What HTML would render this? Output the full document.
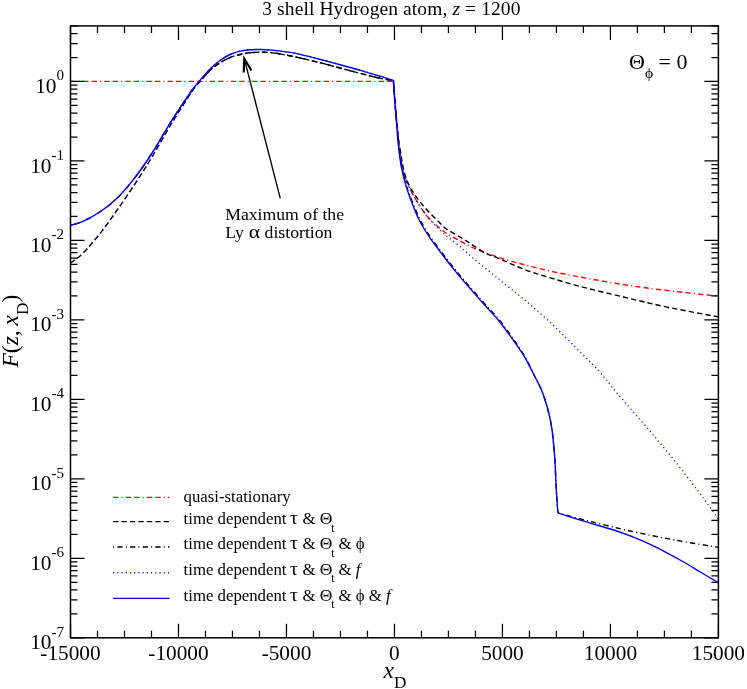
<!DOCTYPE html>
<html><head><meta charset="utf-8"><title>3 shell Hydrogen atom</title>
<style>
html,body{margin:0;padding:0;background:#fff;}
svg text{font-family:"Liberation Serif",serif;fill:#000;white-space:pre;}
body{width:747px;height:689px;overflow:hidden;position:relative;font-family:"Liberation Serif",serif;}
</style></head><body>
<svg width="747" height="689" viewBox="0 0 747 689" style="position:absolute;left:0;top:0;will-change:transform">
<rect x="0" y="0" width="747" height="689" fill="#ffffff"/>
<defs><clipPath id="cp"><rect x="70.50" y="25.90" width="647.90" height="611.90"/></clipPath></defs>
<g clip-path="url(#cp)">
<path d="M70.50 81.40L393.40 81.40C393.63 84.68 394.28 94.67 394.80 101.10C395.32 107.53 395.80 112.85 396.50 120.00C397.20 127.15 397.92 135.53 399.00 144.00C400.08 152.47 401.07 163.12 403.00 170.80C404.93 178.48 407.20 183.33 410.60 190.10C414.00 196.87 419.63 206.02 423.40 211.40C427.17 216.78 429.42 218.80 433.20 222.40C436.98 226.00 441.42 229.80 446.10 233.00C450.78 236.20 456.95 239.20 461.30 241.60C465.65 244.00 467.33 245.22 472.20 247.40C477.07 249.58 484.70 252.62 490.50 254.70C496.30 256.78 501.33 258.22 507.00 259.90C512.67 261.58 517.23 262.92 524.50 264.80C531.77 266.68 541.35 269.17 550.60 271.20C559.85 273.23 567.85 274.77 580.00 277.00C592.15 279.23 608.98 282.35 623.50 284.60C638.02 286.85 651.28 288.57 667.10 290.50C682.92 292.43 709.85 295.25 718.40 296.20" fill="none" stroke="#ff0000" stroke-width="1.40" stroke-dasharray="5.275 3.165 1.055 3.165 5.275 3.165" stroke-linejoin="round"/>
<path d="M70.50 263.20C72.65 261.47 78.27 258.02 83.40 252.80C88.53 247.58 95.38 239.45 101.30 231.90C107.22 224.35 113.02 215.92 118.90 207.50C124.78 199.08 131.00 189.97 136.60 181.40C142.20 172.83 146.78 165.58 152.50 156.10C158.22 146.62 164.43 135.10 170.90 124.50C177.37 113.90 186.53 99.58 191.30 92.50C196.07 85.42 196.13 85.92 199.50 82.00C202.87 78.08 207.85 72.33 211.50 69.00C215.15 65.67 218.10 64.00 221.40 62.00C224.70 60.00 227.97 58.30 231.30 57.00C234.63 55.70 238.02 54.93 241.40 54.20C244.78 53.47 247.87 52.93 251.60 52.60C255.33 52.27 259.73 52.08 263.80 52.20C267.87 52.32 271.63 52.70 276.00 53.30C280.37 53.90 285.95 55.02 290.00 55.80C294.05 56.58 295.20 56.83 300.30 58.00C305.40 59.17 313.82 61.08 320.60 62.80C327.38 64.52 334.22 66.50 341.00 68.30C347.78 70.10 354.53 71.88 361.30 73.60C368.07 75.32 376.25 77.47 381.60 78.60C386.95 79.73 391.43 80.10 393.40 80.40C393.63 83.85 394.28 94.50 394.80 101.10C395.32 107.70 395.87 113.52 396.50 120.00C397.13 126.48 397.97 134.92 398.60 140.00C399.23 145.08 399.33 145.03 400.30 150.50C401.27 155.97 402.58 166.37 404.40 172.80C406.22 179.23 408.13 183.68 411.20 189.10C414.27 194.52 418.30 199.93 422.80 205.30C427.30 210.67 434.32 217.40 438.20 221.30C442.08 225.20 442.25 225.95 446.10 228.70C449.95 231.45 456.95 235.12 461.30 237.80C465.65 240.48 468.20 242.27 472.20 244.80C476.20 247.33 480.93 250.75 485.30 253.00C489.67 255.25 491.87 255.55 498.40 258.30C504.93 261.05 515.80 266.23 524.50 269.50C533.20 272.77 541.35 275.08 550.60 277.90C559.85 280.72 567.85 283.22 580.00 286.40C592.15 289.58 608.98 293.55 623.50 297.00C638.02 300.45 651.28 303.78 667.10 307.10C682.92 310.42 709.85 315.27 718.40 316.90" fill="none" stroke="#000000" stroke-width="1.40" stroke-dasharray="5.275 3.165" stroke-linejoin="round"/>
<path d="M70.50 225.30C72.48 224.68 77.52 223.82 82.40 221.60C87.28 219.38 93.98 215.93 99.80 212.00C105.62 208.07 111.48 203.68 117.30 198.00C123.12 192.32 128.95 185.32 134.70 177.90C140.45 170.48 145.82 162.75 151.80 153.50C157.78 144.25 164.00 132.82 170.60 122.40C177.20 111.98 186.58 97.73 191.40 91.00C196.22 84.27 196.15 85.67 199.50 82.00C202.85 78.33 207.85 72.33 211.50 69.00C215.15 65.67 218.10 64.00 221.40 62.00C224.70 60.00 227.97 58.30 231.30 57.00C234.63 55.70 238.02 54.93 241.40 54.20C244.78 53.47 247.87 52.93 251.60 52.60C255.33 52.27 259.73 52.08 263.80 52.20C267.87 52.32 271.63 52.70 276.00 53.30C280.37 53.90 285.95 55.02 290.00 55.80C294.05 56.58 295.20 56.83 300.30 58.00C305.40 59.17 313.82 61.08 320.60 62.80C327.38 64.52 334.22 66.50 341.00 68.30C347.78 70.10 354.53 71.88 361.30 73.60C368.07 75.32 376.25 77.47 381.60 78.60C386.95 79.73 391.43 80.10 393.40 80.40C394.03 83.61 394.72 94.26 395.20 100.86C395.68 107.46 396.12 112.54 396.70 119.76C397.28 126.98 397.87 136.38 398.70 144.16C399.53 151.94 400.35 159.34 401.70 166.46C403.05 173.58 404.54 179.78 406.80 186.86C409.06 193.94 412.93 203.25 415.25 208.95C417.57 214.65 418.72 217.12 420.75 221.05C422.78 224.98 425.27 229.10 427.45 232.55C429.63 236.00 430.62 237.33 433.85 241.75C437.08 246.17 442.50 253.43 446.85 259.05C451.20 264.67 455.60 270.22 459.95 275.45C464.30 280.68 468.60 285.47 472.95 290.45C477.30 295.43 481.68 300.47 486.05 305.35C490.42 310.23 494.81 314.45 499.15 319.75C503.49 325.05 507.83 331.03 512.11 337.18C516.39 343.32 521.02 350.02 524.82 356.61C528.61 363.20 532.11 371.08 534.90 376.70C537.70 382.31 539.52 385.13 541.60 390.30C543.68 395.47 545.70 401.40 547.40 407.70C549.10 414.00 550.58 419.87 551.80 428.10C553.02 436.33 553.98 447.43 554.70 457.10C555.42 466.77 555.62 477.40 556.10 486.10C556.58 494.80 557.22 504.80 557.60 509.30C557.98 513.80 558.27 512.47 558.40 513.10C563.35 514.40 578.32 518.42 588.10 520.90C597.88 523.38 608.45 525.97 617.10 528.00C625.75 530.03 630.33 531.08 640.00 533.10C649.67 535.12 662.03 537.72 675.10 540.10C688.17 542.48 711.18 546.18 718.40 547.40" fill="none" stroke="#000000" stroke-width="1.40" stroke-dasharray="1.055 3.165 5.275 3.165" stroke-linejoin="round"/>
<path d="M70.50 263.20C72.65 261.47 78.27 258.02 83.40 252.80C88.53 247.58 95.38 239.45 101.30 231.90C107.22 224.35 113.02 215.92 118.90 207.50C124.78 199.08 131.00 189.97 136.60 181.40C142.20 172.83 146.78 165.58 152.50 156.10C158.22 146.62 164.43 135.10 170.90 124.50C177.37 113.90 186.52 99.78 191.30 92.50C196.08 85.22 196.22 84.95 199.60 80.80C202.98 76.65 207.97 71.15 211.60 67.60C215.23 64.05 218.12 61.77 221.40 59.50C224.68 57.23 227.97 55.43 231.30 54.00C234.63 52.57 238.02 51.62 241.40 50.90C244.78 50.18 248.55 49.93 251.60 49.70C254.65 49.47 256.32 49.43 259.70 49.50C263.08 49.57 266.85 49.62 271.90 50.10C276.95 50.58 285.27 51.68 290.00 52.40C294.73 53.12 295.20 53.22 300.30 54.40C305.40 55.58 313.82 57.73 320.60 59.50C327.38 61.27 334.22 63.15 341.00 65.00C347.78 66.85 354.53 68.65 361.30 70.60C368.07 72.55 376.25 75.07 381.60 76.70C386.95 78.33 391.43 79.78 393.40 80.40C393.63 83.85 394.28 94.50 394.80 101.10C395.32 107.70 395.80 112.85 396.50 120.00C397.20 127.15 397.92 135.53 399.00 144.00C400.08 152.47 401.07 163.12 403.00 170.80C404.93 178.48 407.20 183.33 410.60 190.10C414.00 196.87 419.67 205.95 423.40 211.40C427.13 216.85 429.22 218.78 433.00 222.80C436.78 226.82 441.38 231.37 446.10 235.50C450.82 239.63 456.93 243.93 461.30 247.60C465.67 251.27 466.12 252.30 472.30 257.50C478.48 262.70 489.70 271.75 498.40 278.80C507.10 285.85 515.80 292.47 524.50 299.80C533.20 307.13 541.90 314.68 550.60 322.80C559.30 330.92 568.65 340.47 576.70 348.50C584.75 356.53 592.17 363.55 598.90 371.00C605.63 378.45 609.23 383.93 617.10 393.20C624.97 402.47 636.43 415.23 646.10 426.60C655.77 437.97 665.42 449.30 675.10 461.40C684.78 473.50 696.98 489.60 704.20 499.20C711.42 508.80 716.03 515.70 718.40 519.00" fill="none" stroke="#0000ff" stroke-width="1.40" stroke-dasharray="1.055 3.165" stroke-linejoin="round"/>
<path d="M70.50 225.30C72.48 224.68 77.52 223.82 82.40 221.60C87.28 219.38 93.98 215.93 99.80 212.00C105.62 208.07 111.48 203.68 117.30 198.00C123.12 192.32 128.95 185.32 134.70 177.90C140.45 170.48 145.82 162.75 151.80 153.50C157.78 144.25 164.00 132.82 170.60 122.40C177.20 111.98 186.57 97.93 191.40 91.00C196.23 84.07 196.23 84.70 199.60 80.80C202.97 76.90 207.97 71.15 211.60 67.60C215.23 64.05 218.12 61.77 221.40 59.50C224.68 57.23 227.97 55.43 231.30 54.00C234.63 52.57 238.02 51.62 241.40 50.90C244.78 50.18 248.55 49.93 251.60 49.70C254.65 49.47 256.32 49.43 259.70 49.50C263.08 49.57 266.85 49.62 271.90 50.10C276.95 50.58 285.27 51.68 290.00 52.40C294.73 53.12 295.20 53.22 300.30 54.40C305.40 55.58 313.82 57.73 320.60 59.50C327.38 61.27 334.22 63.15 341.00 65.00C347.78 66.85 354.53 68.65 361.30 70.60C368.07 72.55 376.25 75.07 381.60 76.70C386.95 78.33 391.43 79.78 393.40 80.40C393.63 83.85 394.32 94.50 394.80 101.10C395.28 107.70 395.72 112.78 396.30 120.00C396.88 127.22 397.47 136.62 398.30 144.40C399.13 152.18 399.95 159.58 401.30 166.70C402.65 173.82 404.20 179.98 406.40 187.10C408.60 194.22 412.23 203.67 414.50 209.40C416.77 215.13 417.97 217.57 420.00 221.50C422.03 225.43 424.52 229.55 426.70 233.00C428.88 236.45 429.87 237.78 433.10 242.20C436.33 246.62 441.75 253.88 446.10 259.50C450.45 265.12 454.85 270.67 459.20 275.90C463.55 281.13 467.85 285.92 472.20 290.90C476.55 295.88 480.93 300.92 485.30 305.80C489.67 310.68 494.05 314.90 498.40 320.20C502.75 325.50 507.05 331.50 511.40 337.60C515.75 343.70 520.58 350.28 524.50 356.80C528.42 363.32 532.05 371.12 534.90 376.70C537.75 382.28 539.52 385.13 541.60 390.30C543.68 395.47 545.70 401.40 547.40 407.70C549.10 414.00 550.58 419.87 551.80 428.10C553.02 436.33 553.98 447.43 554.70 457.10C555.42 466.77 555.62 477.40 556.10 486.10C556.58 494.80 557.22 504.80 557.60 509.30C557.98 513.80 558.27 512.47 558.40 513.10C560.83 513.88 568.05 516.25 573.00 517.80C577.95 519.35 583.60 521.03 588.10 522.40C592.60 523.77 595.23 524.57 600.00 526.00C604.77 527.43 611.12 529.13 616.70 531.00C622.28 532.87 627.92 534.97 633.50 537.20C639.08 539.43 644.63 541.80 650.20 544.40C655.77 547.00 661.32 549.87 666.90 552.80C672.48 555.73 678.12 558.80 683.70 562.00C689.28 565.20 694.62 568.52 700.40 572.00C706.18 575.48 715.40 581.08 718.40 582.90" fill="none" stroke="#0000ff" stroke-width="1.40" stroke-linejoin="round"/>
</g>
<rect x="70.50" y="25.90" width="647.90" height="611.90" fill="none" stroke="#000" stroke-width="1.50"/>
<path d="M70.50 637.80v-14.00M70.50 25.90v14.00M97.50 637.80v-7.00M97.50 25.90v7.00M124.49 637.80v-7.00M124.49 25.90v7.00M151.49 637.80v-7.00M151.49 25.90v7.00M178.48 637.80v-14.00M178.48 25.90v14.00M205.48 637.80v-7.00M205.48 25.90v7.00M232.47 637.80v-7.00M232.47 25.90v7.00M259.47 637.80v-7.00M259.47 25.90v7.00M286.47 637.80v-14.00M286.47 25.90v14.00M313.46 637.80v-7.00M313.46 25.90v7.00M340.46 637.80v-7.00M340.46 25.90v7.00M367.45 637.80v-7.00M367.45 25.90v7.00M394.45 637.80v-14.00M394.45 25.90v14.00M421.45 637.80v-7.00M421.45 25.90v7.00M448.44 637.80v-7.00M448.44 25.90v7.00M475.44 637.80v-7.00M475.44 25.90v7.00M502.43 637.80v-14.00M502.43 25.90v14.00M529.43 637.80v-7.00M529.43 25.90v7.00M556.42 637.80v-7.00M556.42 25.90v7.00M583.42 637.80v-7.00M583.42 25.90v7.00M610.42 637.80v-14.00M610.42 25.90v14.00M637.41 637.80v-7.00M637.41 25.90v7.00M664.41 637.80v-7.00M664.41 25.90v7.00M691.40 637.80v-7.00M691.40 25.90v7.00M718.40 637.80v-14.00M718.40 25.90v14.00M70.50 637.80h14.00M718.40 637.80h-14.00M70.50 613.87h7.00M718.40 613.87h-7.00M70.50 599.88h7.00M718.40 599.88h-7.00M70.50 589.95h7.00M718.40 589.95h-7.00M70.50 582.25h7.00M718.40 582.25h-7.00M70.50 575.95h7.00M718.40 575.95h-7.00M70.50 570.63h7.00M718.40 570.63h-7.00M70.50 566.02h7.00M718.40 566.02h-7.00M70.50 561.96h7.00M718.40 561.96h-7.00M70.50 558.32h14.00M718.40 558.32h-14.00M70.50 534.40h7.00M718.40 534.40h-7.00M70.50 520.40h7.00M718.40 520.40h-7.00M70.50 510.47h7.00M718.40 510.47h-7.00M70.50 502.77h7.00M718.40 502.77h-7.00M70.50 496.48h7.00M718.40 496.48h-7.00M70.50 491.15h7.00M718.40 491.15h-7.00M70.50 486.55h7.00M718.40 486.55h-7.00M70.50 482.48h7.00M718.40 482.48h-7.00M70.50 478.84h14.00M718.40 478.84h-14.00M70.50 454.92h7.00M718.40 454.92h-7.00M70.50 440.92h7.00M718.40 440.92h-7.00M70.50 430.99h7.00M718.40 430.99h-7.00M70.50 423.29h7.00M718.40 423.29h-7.00M70.50 417.00h7.00M718.40 417.00h-7.00M70.50 411.68h7.00M718.40 411.68h-7.00M70.50 407.07h7.00M718.40 407.07h-7.00M70.50 403.00h7.00M718.40 403.00h-7.00M70.50 399.37h14.00M718.40 399.37h-14.00M70.50 375.44h7.00M718.40 375.44h-7.00M70.50 361.44h7.00M718.40 361.44h-7.00M70.50 351.51h7.00M718.40 351.51h-7.00M70.50 343.81h7.00M718.40 343.81h-7.00M70.50 337.52h7.00M718.40 337.52h-7.00M70.50 332.20h7.00M718.40 332.20h-7.00M70.50 327.59h7.00M718.40 327.59h-7.00M70.50 323.52h7.00M718.40 323.52h-7.00M70.50 319.89h14.00M718.40 319.89h-14.00M70.50 295.96h7.00M718.40 295.96h-7.00M70.50 281.97h7.00M718.40 281.97h-7.00M70.50 272.04h7.00M718.40 272.04h-7.00M70.50 264.33h7.00M718.40 264.33h-7.00M70.50 258.04h7.00M718.40 258.04h-7.00M70.50 252.72h7.00M718.40 252.72h-7.00M70.50 248.11h7.00M718.40 248.11h-7.00M70.50 244.05h7.00M718.40 244.05h-7.00M70.50 240.41h14.00M718.40 240.41h-14.00M70.50 216.48h7.00M718.40 216.48h-7.00M70.50 202.49h7.00M718.40 202.49h-7.00M70.50 192.56h7.00M718.40 192.56h-7.00M70.50 184.86h7.00M718.40 184.86h-7.00M70.50 178.56h7.00M718.40 178.56h-7.00M70.50 173.24h7.00M718.40 173.24h-7.00M70.50 168.63h7.00M718.40 168.63h-7.00M70.50 164.57h7.00M718.40 164.57h-7.00M70.50 160.93h14.00M718.40 160.93h-14.00M70.50 137.01h7.00M718.40 137.01h-7.00M70.50 123.01h7.00M718.40 123.01h-7.00M70.50 113.08h7.00M718.40 113.08h-7.00M70.50 105.38h7.00M718.40 105.38h-7.00M70.50 99.08h7.00M718.40 99.08h-7.00M70.50 93.76h7.00M718.40 93.76h-7.00M70.50 89.16h7.00M718.40 89.16h-7.00M70.50 85.09h7.00M718.40 85.09h-7.00M70.50 81.45h14.00M718.40 81.45h-14.00M70.50 57.53h7.00M718.40 57.53h-7.00M70.50 43.53h7.00M718.40 43.53h-7.00M70.50 33.60h7.00M718.40 33.60h-7.00M70.50 25.90h7.00M718.40 25.90h-7.00" stroke="#000" stroke-width="1.25" fill="none"/>
<text x="70.50" y="660.00" font-size="21.30" text-anchor="middle"   >-15000</text>
<text x="178.48" y="660.00" font-size="21.30" text-anchor="middle"   >-10000</text>
<text x="286.47" y="660.00" font-size="21.30" text-anchor="middle"   >-5000</text>
<text x="394.45" y="660.00" font-size="21.30" text-anchor="middle"   >0</text>
<text x="502.43" y="660.00" font-size="21.30" text-anchor="middle"   >5000</text>
<text x="610.42" y="660.00" font-size="21.30" text-anchor="middle"   >10000</text>
<text x="718.40" y="660.00" font-size="21.30" text-anchor="middle"   >15000</text>
<text x="64.00" y="649.40" font-size="21.30" text-anchor="end"   >10<tspan font-size="15.06" dy="-12.78">-7</tspan></text>
<text x="64.00" y="569.92" font-size="21.30" text-anchor="end"   >10<tspan font-size="15.06" dy="-12.78">-6</tspan></text>
<text x="64.00" y="490.44" font-size="21.30" text-anchor="end"   >10<tspan font-size="15.06" dy="-12.78">-5</tspan></text>
<text x="64.00" y="410.97" font-size="21.30" text-anchor="end"   >10<tspan font-size="15.06" dy="-12.78">-4</tspan></text>
<text x="64.00" y="331.49" font-size="21.30" text-anchor="end"   >10<tspan font-size="15.06" dy="-12.78">-3</tspan></text>
<text x="64.00" y="252.01" font-size="21.30" text-anchor="end"   >10<tspan font-size="15.06" dy="-12.78">-2</tspan></text>
<text x="64.00" y="172.53" font-size="21.30" text-anchor="end"   >10<tspan font-size="15.06" dy="-12.78">-1</tspan></text>
<text x="64.00" y="93.05" font-size="21.30" text-anchor="end"   >10<tspan font-size="15.06" dy="-12.78">0</tspan></text>
<text x="262.30" y="14.80" font-size="19.50" text-anchor="start"   letter-spacing="0.095">3 shell Hydrogen atom, <tspan font-style="italic">z</tspan> = 1200</text>
<text x="225.20" y="220.10" font-size="17.70" text-anchor="start"   >Maximum of the</text>
<text x="225.20" y="238.20" font-size="17.70" text-anchor="start"   >Ly</text>
<g transform="translate(248.7,238.2) scale(1.22,1.04)"><text x="0.00" y="0.00" font-size="17.70" text-anchor="start"   >α</text>
</g>
<text x="264.60" y="238.20" font-size="17.70" text-anchor="start"   >distortion</text>
<path d="M280.30 198.40L244.22 58.58" stroke="#000" stroke-width="1.35" fill="none"/>
<path d="M251.43 70.58L244.22 58.58L243.73 72.57" stroke="#000" stroke-width="2.10" fill="none" stroke-linejoin="miter" stroke-miterlimit="10"/>
<text x="629.00" y="69.40" font-size="22.00" text-anchor="start"   >Θ<tspan font-size="15.56" dy="8.80">ϕ</tspan><tspan dy="-8.80"> = 0</tspan></text>
<text x="383.50" y="678.00" font-size="23.50" text-anchor="start"   ><tspan font-style="italic">x</tspan><tspan font-size="17.16" dy="10.10">D</tspan></text>
<g transform="translate(17.6,367.5) rotate(-90)"><text x="0.00" y="0.00" font-size="23.50" text-anchor="start"   ><tspan font-style="italic">F</tspan>(<tspan font-style="italic">z</tspan>, <tspan dx="-1.0" font-style="italic">x</tspan><tspan font-size="17.16" dy="10.00">D</tspan><tspan dy="-10.00">)</tspan></text>
</g>
<path d="M113.10 497.40H169.40" fill="none" stroke="#ff0000" stroke-width="1.40" stroke-dasharray="5.275 3.165 1.055 3.165 5.275 3.165" stroke-linejoin="round"/>
<text x="183.60" y="501.90" font-size="16.77" text-anchor="start"   >quasi-stationary</text>
<path d="M113.10 521.60H169.40" fill="none" stroke="#000000" stroke-width="1.40" stroke-dasharray="5.275 3.165" stroke-linejoin="round"/>
<text x="183.60" y="524.20" font-size="16.77" text-anchor="start"   >time dependent <tspan dx="-0.6" font-size="19.6">τ</tspan><tspan dx="0.3"> &amp; </tspan><tspan font-size="17.5">Θ</tspan><tspan dx="-1.2" font-size="11.86" dy="7.41">t</tspan></text>
<path d="M113.10 547.00H169.40" fill="none" stroke="#000000" stroke-width="1.40" stroke-dasharray="1.055 3.165 5.275 3.165" stroke-linejoin="round"/>
<text x="183.60" y="549.40" font-size="16.77" text-anchor="start"   >time dependent <tspan dx="-0.6" font-size="19.6">τ</tspan><tspan dx="0.3"> &amp; </tspan><tspan font-size="17.5">Θ</tspan><tspan dx="-1.2" font-size="11.86" dy="7.41">t</tspan><tspan dy="-7.41"> &amp; ϕ</tspan></text>
<path d="M113.10 572.70H169.40" fill="none" stroke="#0000ff" stroke-width="1.40" stroke-dasharray="1.055 3.165" stroke-linejoin="round"/>
<text x="183.60" y="575.00" font-size="16.77" text-anchor="start"   >time dependent <tspan dx="-0.6" font-size="19.6">τ</tspan><tspan dx="0.3"> &amp; </tspan><tspan font-size="17.5">Θ</tspan><tspan dx="-1.2" font-size="11.86" dy="7.41">t</tspan><tspan dy="-7.41"> &amp; <tspan font-style="italic">f</tspan></tspan></text>
<path d="M113.10 598.40H169.40" fill="none" stroke="#0000ff" stroke-width="1.40" stroke-linejoin="round"/>
<text x="183.60" y="601.00" font-size="16.77" text-anchor="start"   >time dependent <tspan dx="-0.6" font-size="19.6">τ</tspan><tspan dx="0.3"> &amp; </tspan><tspan font-size="17.5">Θ</tspan><tspan dx="-1.2" font-size="11.86" dy="7.41">t</tspan><tspan dy="-7.41"> &amp; ϕ &amp; <tspan font-style="italic">f</tspan></tspan></text>
</svg>
</body></html>
